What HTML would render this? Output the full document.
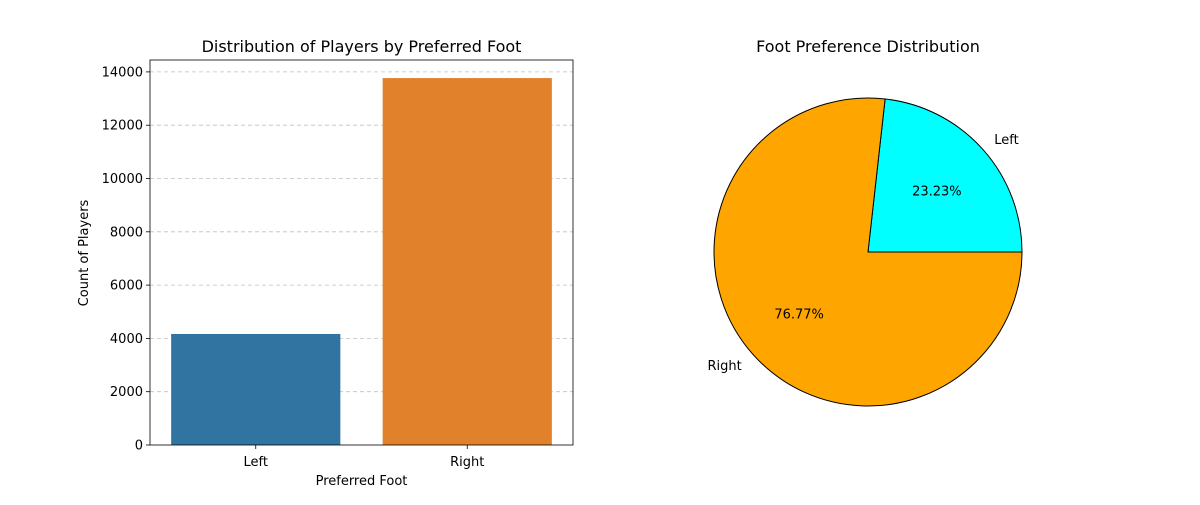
<!DOCTYPE html>
<html><head><meta charset="utf-8"><style>
body{margin:0;background:#fff;font-family:"Liberation Sans","DejaVu Sans",sans-serif;}
svg text{font-family:"DejaVu Sans","Liberation Sans",sans-serif;}
</style></head><body>
<svg id="chart" width="1200" height="500" xmlns="http://www.w3.org/2000/svg">
<rect width="1200" height="500" fill="#fff"/>
<g id="bar"></g>
<g id="pie"></g>
</svg>
<script>
const categories = ["Left", "Right"];
const counts = [4166, 13769];
const yTicks = [0, 2000, 4000, 6000, 8000, 10000, 12000, 14000];
const pieLabels = ["Left", "Right"];
const pieColors = ["#00ffff", "#ffa500"];
const barColors = ["#3274a1", "#e1812c"];

const NS = "http://www.w3.org/2000/svg";
function mk(parent, tag, attrs, text) {
  const e = document.createElementNS(NS, tag);
  for (const k in attrs) e.setAttribute(k, attrs[k]);
  if (text !== undefined) e.textContent = text;
  parent.appendChild(e);
  return e;
}
const bar = document.getElementById("bar");
const X0 = 150, X1 = 573, Y0 = 445, Y1 = 60;
const yMax = 14447;
const yScale = v => Y0 - v / yMax * (Y0 - Y1);
const band = (X1 - X0) / categories.length;
const xCenter = i => X0 + band * (i + 0.5);

yTicks.forEach(t => {
  const y = yScale(t);
  if (t > 0) {
    const g = mk(bar, "line", {x1: X0, x2: X1, y1: y, y2: y, stroke: "#c0c0c0", "stroke-dasharray": "4,3", "stroke-width": 0.8});
    
    
  }
  const tk = mk(bar, "line", {x1: X0 - 4, x2: X0, y1: y, y2: y, stroke: "#000", "stroke-width": 0.8});
  
  
  const lb = mk(bar, "text", {x: X0 - 7, y: y + 4.5, "text-anchor": "end", "font-size": 13}, t);
  
  
});
counts.forEach((v, i) => {
  const w = band * 0.8;
  const r = mk(bar, "rect", {x: xCenter(i) - w / 2, y: yScale(v), width: w, height: Y0 - yScale(v), fill: barColors[i]});
  
  
  const tk = mk(bar, "line", {x1: xCenter(i), x2: xCenter(i), y1: Y0, y2: Y0 + 4, stroke: "#000", "stroke-width": 0.8});
  
  
  const lb = mk(bar, "text", {x: xCenter(i), y: Y0 + 21, "text-anchor": "middle", "font-size": 13}, categories[i]);
  
  
});
const frame = mk(bar, "rect", {x: X0, y: Y1, width: X1 - X0, height: Y0 - Y1, fill: "none", stroke: "#000", "stroke-width": 0.8});


const t1 = mk(bar, "text", {x: (X0 + X1) / 2, y: 52, "text-anchor": "middle", "font-size": 16}, "Distribution of Players by Preferred Foot");


const xt = mk(bar, "text", {x: (X0 + X1) / 2, y: 485, "text-anchor": "middle", "font-size": 13}, "Preferred Foot");


const yt = mk(bar, "text", {x: 0, y: 0, "text-anchor": "middle", "font-size": 13, transform: "translate(88,253) rotate(-90)"}, "Count of Players");



// Pie
const pie = document.getElementById("pie");
const cx = 868, cy = 252, R = 154;
const total = counts.reduce((a, b) => a + b, 0);
let a0 = 0;
counts.forEach((v, i) => {
  const frac = v / total;
  const a1 = a0 + frac * 2 * Math.PI;
  const p = (a) => [cx + R * Math.cos(a), cy - R * Math.sin(a)];
  const [sx, sy] = p(a0), [ex, ey] = p(a1);
  const large = frac > 0.5 ? 1 : 0;
  const s = mk(pie, "path", {d: `M${cx},${cy} L${sx},${sy} A${R},${R} 0 ${large} 0 ${ex},${ey} Z`, fill: pieColors[i], stroke: "#000", "stroke-width": 1});
  
  
  const mid = (a0 + a1) / 2;
  const lx = cx + 1.1 * R * Math.cos(mid), ly = cy - 1.1 * R * Math.sin(mid);
  const l = mk(pie, "text", {x: lx, y: ly + 5, "text-anchor": Math.cos(mid) >= 0 ? "start" : "end", "font-size": 13}, pieLabels[i]);
  
  
  const px = cx + 0.6 * R * Math.cos(mid), py = cy - 0.6 * R * Math.sin(mid);
  const pt = mk(pie, "text", {x: px, y: py + 5, "text-anchor": "middle", "font-size": 13}, (frac * 100).toFixed(2) + "%");
  
  
  a0 = a1;
});
const t2 = mk(pie, "text", {x: cx, y: 52, "text-anchor": "middle", "font-size": 16}, "Foot Preference Distribution");


</script>
</body></html>
